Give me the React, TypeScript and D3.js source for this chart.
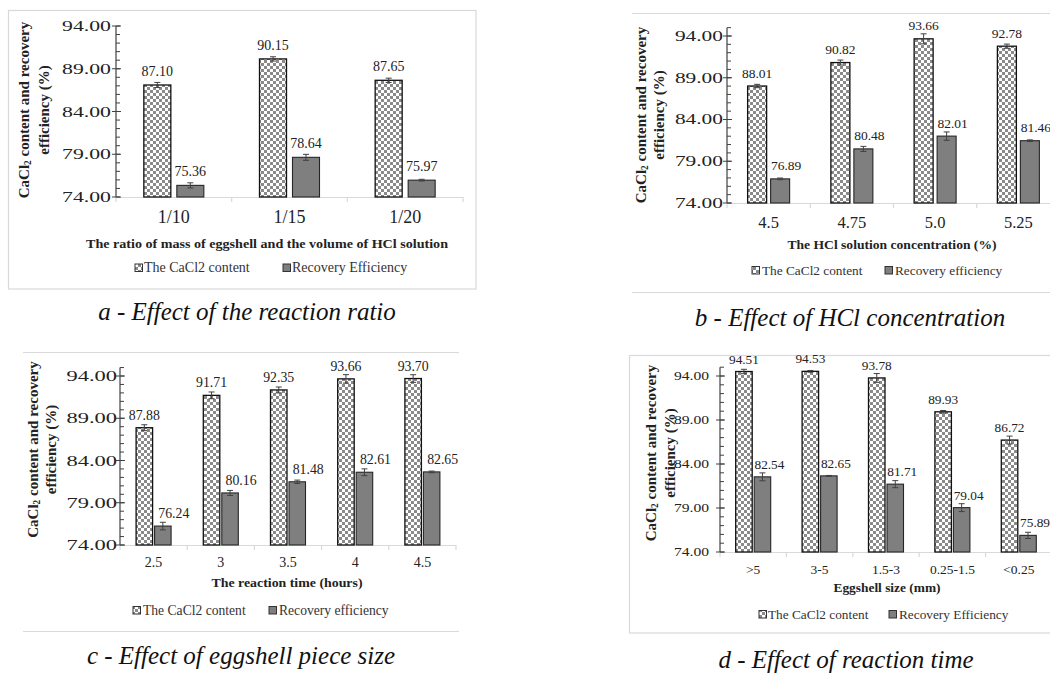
import React from "react";
import * as d3 from "d3";

// ---------- data ----------
const yTickValues = [74, 79, 84, 89, 94];
const yTickLabels = ["74.00", "79.00", "84.00", "89.00", "94.00"];

const ratioCats = ["1/10", "1/15", "1/20"];
const ratioCaCl2 = [87.1, 90.15, 87.65];
const ratioRecovery = [75.36, 78.64, 75.97];
const ratioCaCl2Err = [0.3, 0.25, 0.25];
const ratioRecoveryErr = [0.3, 0.35, 0.1];

const hclCats = ["4.5", "4.75", "5.0", "5.25"];
const hclCaCl2 = [88.01, 90.82, 93.66, 92.78];
const hclRecovery = [76.89, 80.48, 82.01, 81.46];
const hclCaCl2Err = [0.2, 0.3, 0.6, 0.25];
const hclRecoveryErr = [0.1, 0.3, 0.5, 0.1];

const timeCats = ["2.5", "3", "3.5", "4", "4.5"];
const timeCaCl2 = [87.88, 91.71, 92.35, 93.66, 93.7];
const timeRecovery = [76.24, 80.16, 81.48, 82.61, 82.65];
const timeCaCl2Err = [0.35, 0.4, 0.35, 0.5, 0.45];
const timeRecoveryErr = [0.45, 0.3, 0.2, 0.4, 0.1];

const sizeCats = [">5", "3-5", "1.5-3", "0.25-1.5", "<0.25"];
const sizeCaCl2 = [94.51, 94.53, 93.78, 89.93, 86.72];
const sizeRecovery = [82.54, 82.65, 81.71, 79.04, 75.89];
const sizeCaCl2Err = [0.25, 0.1, 0.5, 0.15, 0.45];
const sizeRecoveryErr = [0.45, 0.05, 0.4, 0.45, 0.35];

const FONT = '"Liberation Serif", "Times New Roman", serif';
const FRAME = "#d9d9d9";

type Layout = {
  x0: number; x1: number; yBase: number; y94: number; yMax: number;
  barW: number; gap: number;
  yTickFs: number; yTickSx: number; yTickEnd: number;
  xTickFs: number; xTickBase: number;
  dataFs: number; recDx: number; labelOff: number;
  xTitle: { x: number; y: number; w: number; fs: number };
  yTitle: { x1: number; x2: number; cy: number; fs: number };
  legend: { m1: number; t1: number; m2: number; t2: number; y: number; fs: number };
  caption: { x: number; y: number };
};

function Panel(props: {
  id: string; cats: string[]; ca: number[]; rec: number[]; caErr: number[]; recErr: number[];
  xTitle: string; recLabel: string; caption: string; L: Layout;
}) {
  const { cats, ca, rec, caErr, recErr, L } = props;
  const y = d3.scaleLinear().domain([74, 94]).range([L.yBase, L.y94]);
  const x = d3.scaleBand<string>().domain(cats).range([L.x0, L.x1]).padding(0);
  const minor = d3.range(74, L.yMax + 1, 1);
  const cx = (c: string) => (x(c) as number) + x.bandwidth() / 2;
  const caX = (c: string) => cx(c) - L.gap / 2 - L.barW;
  const recX = (c: string) => cx(c) + L.gap / 2;
  const err = (xc: number, v: number, e: number, key: string) => (
    <g key={key} stroke="#404040" strokeWidth={1}>
      <line x1={xc} x2={xc} y1={y(v - e)} y2={y(v + e)} />
      <line x1={xc - 3} x2={xc + 3} y1={y(v - e)} y2={y(v - e)} />
      <line x1={xc - 3} x2={xc + 3} y1={y(v + e)} y2={y(v + e)} />
    </g>
  );
  return (
    <g style={{ fontFamily: FONT }}>
      {/* x axis */}
      <line x1={L.x0} x2={L.x1} y1={L.yBase + 0.5} y2={L.yBase + 0.5} stroke={FRAME} strokeWidth={1.2} />
      {[...cats.map((c) => x(c) as number), L.x1].map((t, i) => (
        <line key={"xt" + i} x1={t} x2={t} y1={L.yBase} y2={L.yBase + 5} stroke={FRAME} strokeWidth={1.2} />
      ))}
      {/* bars */}
      {cats.map((c, i) => (
        <g key={"b" + i}>
          <rect x={caX(c)} y={y(ca[i])} width={L.barW} height={L.yBase - y(ca[i])}
            fill={`url(#chk-${props.id})`} stroke="#111" strokeWidth={1.3} />
          <rect x={recX(c)} y={y(rec[i])} width={L.barW} height={L.yBase - y(rec[i])}
            fill="#7f7f7f" stroke="#262626" strokeWidth={1.1} />
          {err(caX(c) + L.barW / 2, ca[i], caErr[i], "ec" + i)}
          {err(recX(c) + L.barW / 2, rec[i], recErr[i], "er" + i)}
          <text x={caX(c) + L.barW / 2} y={y(ca[i]) - L.labelOff} textAnchor="middle" fontSize={L.dataFs} fill="#222">
            {ca[i].toFixed(2)}
          </text>
          <text x={recX(c) + L.barW / 2 + L.recDx} y={y(rec[i]) - L.labelOff} textAnchor="middle" fontSize={L.dataFs} fill="#222">
            {rec[i].toFixed(2)}
          </text>
          <text x={cx(c)} y={L.xTickBase} textAnchor="middle" fontSize={L.xTickFs} fill="#222">{c}</text>
        </g>
      ))}
      {/* y axis */}
      <line x1={L.x0} x2={L.x0} y1={y(L.yMax)} y2={L.yBase} stroke="#404040" strokeWidth={1.2} />
      {minor.map((v) => (
        <line key={"m" + v} x1={L.x0} x2={L.x0 + 4} y1={y(v)} y2={y(v)} stroke="#404040" strokeWidth={1} />
      ))}
      {yTickValues.map((v, i) => (
        <g key={"yt" + i}>
          <line x1={L.x0 - 4} x2={L.x0 + 5} y1={y(v)} y2={y(v)} stroke="#404040" strokeWidth={1} />
          <text transform={`translate(${L.yTickEnd},${y(v) + L.yTickFs * 0.35}) scale(${L.yTickSx},1)`}
            textAnchor="end" fontSize={L.yTickFs} fill="#222">{yTickLabels[i]}</text>
        </g>
      ))}
      {/* y title */}
      <text transform={`translate(${L.yTitle.x1},${L.yTitle.cy}) rotate(-90)`} textAnchor="middle"
        fontSize={L.yTitle.fs} fontWeight="bold" fill="#222">
        CaCl<tspan fontSize={L.yTitle.fs * 0.62} dy={2}>2</tspan><tspan dy={-2}> content and recovery</tspan>
      </text>
      <text transform={`translate(${L.yTitle.x2},${L.yTitle.cy}) rotate(-90)`} textAnchor="middle"
        fontSize={L.yTitle.fs} fontWeight="bold" fill="#222">efficiency (%)</text>
      {/* x title */}
      <text x={L.xTitle.x} y={L.xTitle.y} textAnchor="middle" fontSize={L.xTitle.fs} fontWeight="bold"
        fill="#222" textLength={L.xTitle.w} lengthAdjust="spacingAndGlyphs">{props.xTitle}</text>
      {/* legend */}
      <rect x={L.legend.m1} y={L.legend.y - 8} width={7.5} height={7.5} fill={`url(#chk-${props.id})`} stroke="#333" strokeWidth={1} />
      <text x={L.legend.t1} y={L.legend.y} fontSize={L.legend.fs} fill="#333">The CaCl2 content</text>
      <rect x={L.legend.m2} y={L.legend.y - 8} width={7.5} height={7.5} fill="#7f7f7f" stroke="#333" strokeWidth={1} />
      <text x={L.legend.t2} y={L.legend.y} fontSize={L.legend.fs} fill="#333">{props.recLabel}</text>
      {/* caption */}
      <text x={L.caption.x} y={L.caption.y} textAnchor="middle" fontSize={25} fontStyle="italic" fill="#111">
        {props.caption}
      </text>
    </g>
  );
}

const layoutA: Layout = {
  x0: 116, x1: 463, yBase: 197, y94: 26, yMax: 94, barW: 27, gap: 6,
  yTickFs: 14.5, yTickSx: 1.5, yTickEnd: 111, xTickFs: 18, xTickBase: 223,
  dataFs: 14, recDx: 0, labelOff: 9,
  xTitle: { x: 267, y: 247.5, w: 362, fs: 13 },
  yTitle: { x1: 29, x2: 49, cy: 110, fs: 15 },
  legend: { m1: 135, t1: 144, m2: 283, t2: 292, y: 272, fs: 14 },
  caption: { x: 247, y: 320 },
};
const layoutB: Layout = {
  x0: 727, x1: 1060, yBase: 203, y94: 36, yMax: 95, barW: 19, gap: 4,
  yTickFs: 13.8, yTickSx: 1.55, yTickEnd: 723, xTickFs: 16.5, xTickBase: 227.5,
  dataFs: 13.5, recDx: 6, labelOff: 8.5,
  xTitle: { x: 892, y: 248.5, w: 209, fs: 13.5 },
  yTitle: { x1: 646, x2: 664, cy: 115, fs: 15 },
  legend: { m1: 752, t1: 762, m2: 885, t2: 895, y: 274.5, fs: 13.3 },
  caption: { x: 850, y: 326 },
};
const layoutC: Layout = {
  x0: 120, x1: 456, yBase: 545, y94: 376, yMax: 95, barW: 16.5, gap: 2,
  yTickFs: 14.5, yTickSx: 1.55, yTickEnd: 117, xTickFs: 14, xTickBase: 567,
  dataFs: 13.8, recDx: 11, labelOff: 8,
  xTitle: { x: 287, y: 586.5, w: 151, fs: 13 },
  yTitle: { x1: 37.5, x2: 55.5, cy: 449.5, fs: 15 },
  legend: { m1: 133, t1: 143, m2: 269, t2: 279, y: 614.5, fs: 13.6 },
  caption: { x: 241, y: 664 },
};
const layoutD: Layout = {
  x0: 720, x1: 1052, yBase: 552, y94: 376, yMax: 95, barW: 16.5, gap: 2,
  yTickFs: 12.5, yTickSx: 1.25, yTickEnd: 709, xTickFs: 13.5, xTickBase: 573.5,
  dataFs: 13.3, recDx: 7, labelOff: 8,
  xTitle: { x: 887, y: 592, w: 107, fs: 13 },
  yTitle: { x1: 656, x2: 675, cy: 453, fs: 15 },
  legend: { m1: 759, t1: 768, m2: 889, t2: 899, y: 618.5, fs: 13.3 },
  caption: { x: 846, y: 668 },
};

export default function App() {
  const ids = ["a", "b", "c", "d"];
  return (
    <svg width={1050} height={676} style={{ position: "absolute", left: 0, top: 0, background: "#fff", fontFamily: FONT }}>
      <defs>
        {ids.map((id) => (
          <pattern key={id} id={`chk-${id}`} patternUnits="userSpaceOnUse" width={6} height={6}>
            <rect width={6} height={6} fill="#fff" />
            <rect width={3} height={3} fill="#8a8a8a" />
            <rect x={3} y={3} width={3} height={3} fill="#8a8a8a" />
          </pattern>
        ))}
      </defs>
      <rect width={1050} height={676} fill="#fff" />
      {/* frames */}
      <rect x={8.5} y={10.5} width={467.5} height={278.5} fill="none" stroke={FRAME} strokeWidth={1.2} />
      <line x1={632} x2={1050} y1={13.5} y2={13.5} stroke={FRAME} strokeWidth={1.2} />
      <line x1={632} x2={1050} y1={292.5} y2={292.5} stroke={FRAME} strokeWidth={1.2} />
      <line x1={23} x2={459} y1={352.5} y2={352.5} stroke={FRAME} strokeWidth={1.2} />
      <line x1={23} x2={459} y1={631.5} y2={631.5} stroke={FRAME} strokeWidth={1.2} />
      <rect x={629.5} y={355.5} width={440} height={277.5} fill="none" stroke={FRAME} strokeWidth={1.2} />

      <Panel id="a" cats={ratioCats} ca={ratioCaCl2} rec={ratioRecovery} caErr={ratioCaCl2Err} recErr={ratioRecoveryErr}
        xTitle="The ratio of mass of eggshell and the volume of HCl solution" recLabel="Recovery Efficiency"
        caption="a - Effect of the reaction ratio" L={layoutA} />
      <Panel id="b" cats={hclCats} ca={hclCaCl2} rec={hclRecovery} caErr={hclCaCl2Err} recErr={hclRecoveryErr}
        xTitle="The HCl solution concentration (%)" recLabel="Recovery efficiency"
        caption="b - Effect of HCl concentration" L={layoutB} />
      <Panel id="c" cats={timeCats} ca={timeCaCl2} rec={timeRecovery} caErr={timeCaCl2Err} recErr={timeRecoveryErr}
        xTitle="The reaction time (hours)" recLabel="Recovery efficiency"
        caption="c - Effect of eggshell piece size" L={layoutC} />
      <Panel id="d" cats={sizeCats} ca={sizeCaCl2} rec={sizeRecovery} caErr={sizeCaCl2Err} recErr={sizeRecoveryErr}
        xTitle="Eggshell size (mm)" recLabel="Recovery Efficiency"
        caption="d - Effect of reaction time" L={layoutD} />
    </svg>
  );
}
